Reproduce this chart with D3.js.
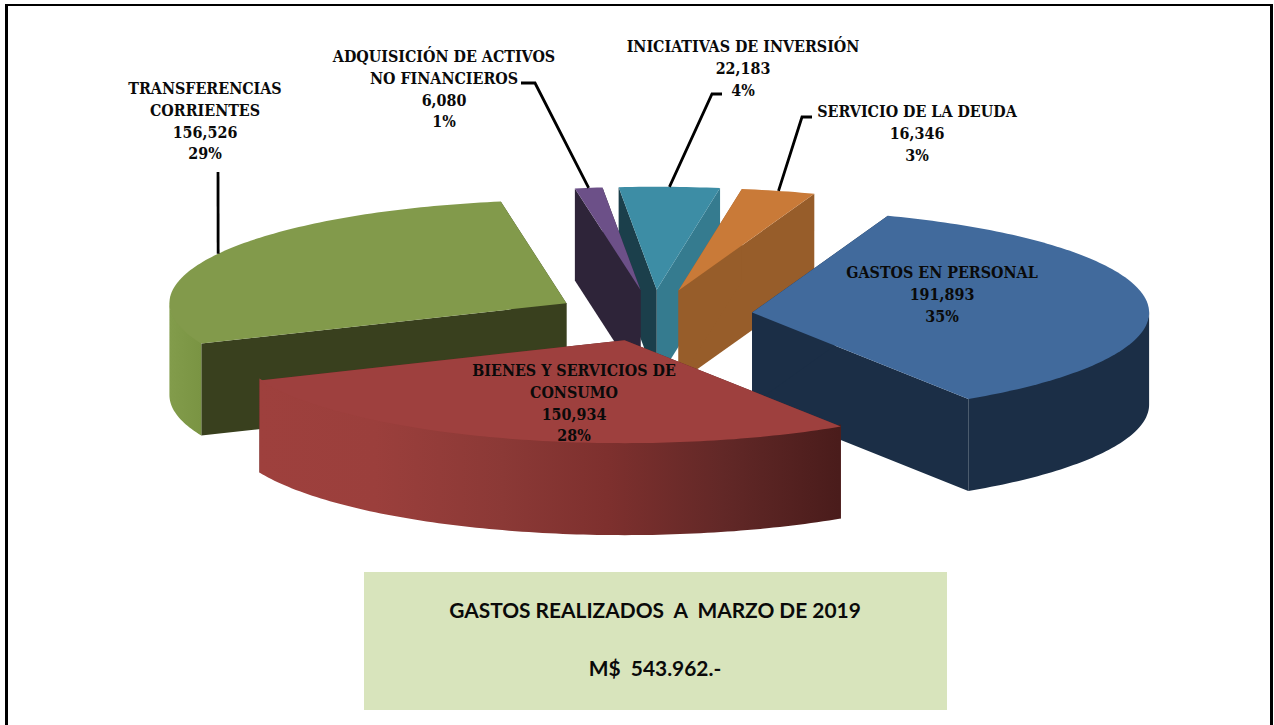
<!DOCTYPE html>
<html>
<head>
<meta charset="utf-8">
<script src="https://cdn.jsdelivr.net/npm/d3@7"></script>
<style>
  html, body { margin: 0; background: #fff; overflow: hidden; }
  .label { font: bold 15.9px "DejaVu Serif Condensed", "DejaVu Serif", serif; font-stretch: condensed; fill: #0a0a0a; text-anchor: middle; }
  .note { font: bold 20.9px Lato, sans-serif; fill: #0a0a0a; text-anchor: middle; white-space: pre; }
</style>
</head>
<body>
<svg id="chart" width="1274" height="725"></svg>
<script>
// chart values
const categories = ['GASTOS EN PERSONAL', 'BIENES Y SERVICIOS DE CONSUMO', 'TRANSFERENCIAS CORRIENTES',
  'ADQUISICIÓN DE ACTIVOS NO FINANCIEROS', 'INICIATIVAS DE INVERSIÓN', 'SERVICIO DE LA DEUDA'];
const values = [191893, 150934, 156526, 6080, 22183, 16346];
const percents = ['35%', '28%', '29%', '1%', '4%', '3%'];
const noteLines = ['GASTOS REALIZADOS  A  MARZO DE 2019', 'M$  543.962.-'];

// label wrapping, same order as categories
const labelLines = [
  ['GASTOS EN PERSONAL'],
  ['BIENES Y SERVICIOS DE', 'CONSUMO'],
  ['TRANSFERENCIAS', 'CORRIENTES'],
  ['ADQUISICIÓN DE ACTIVOS', 'NO FINANCIEROS'],
  ['INICIATIVAS DE INVERSIÓN'],
  ['SERVICIO DE LA DEUDA'],
];

// styling and layout
const topColors = ['#416a9c', '#9e403e', '#829a4b', '#6c5088', '#3d8da5', '#c97a38'];
const startWallColors = ['#1b2e46', '#5c2625', '#39401e', '#2e2439', '#1b3f4b', '#975d2a'];
const endWallColors = ['#1b2e46', '#5c2625', '#39401e', '#2e2439', '#357b8f', '#975d2a'];
const labelPos = [[942, 278], [574, 376], [205, 94], [444, 62], [743, 52], [917, 117]];
const leaderElbow = [null, null, [[218, 172]], [[521, 83], [535, 83]], [[722, 94], [712, 94]], [[812, 117], [802, 117]]];
const drawOrder = [4, 3, 5, 2, 0, 1];

const cx = 653.5, cy = 315.5, rx = 397, ry = 103, depth = 92, explode = 0.25;
const deg = Math.PI / 180;

const svg = d3.select('#chart');

// frame, open at the bottom like the cropped original
svg.append('path')
  .attr('d', 'M6.5,725V5M1271.5,725V5')
  .attr('fill', 'none')
  .attr('stroke', '#000')
  .attr('stroke-width', 3);
svg.append('path')
  .attr('d', 'M5,5H1273')
  .attr('fill', 'none')
  .attr('stroke', '#000')
  .attr('stroke-width', 2);

const defs = svg.append('defs');

const redGrad = defs.append('linearGradient')
  .attr('id', 'redWall')
  .attr('gradientUnits', 'userSpaceOnUse')
  .attr('x1', 259).attr('x2', 839).attr('y1', 0).attr('y2', 0);
[[0, '#9e403d'], [0.2, '#9b3f3c'], [0.42, '#8b3936'], [0.6, '#7e302e'], [0.8, '#622827'], [1, '#4a1c1b']].forEach(function(s) {
  redGrad.append('stop').attr('offset', s[0]).attr('stop-color', s[1]);
});

const greenGrad = defs.append('linearGradient')
  .attr('id', 'greenWall')
  .attr('gradientUnits', 'userSpaceOnUse')
  .attr('x1', 170).attr('x2', 201).attr('y1', 0).attr('y2', 0);
[[0, '#829c4b'], [1, '#7a9443']].forEach(function(s) {
  greenGrad.append('stop').attr('offset', s[0]).attr('stop-color', s[1]);
});

const outerFill = ['#1b2e46', 'url(#redWall)', 'url(#greenWall)', '#2e2439', '#357b8f', '#975d2a'];

const pie = d3.pie()
  .sort(null)
  .startAngle(20 * deg)
  .endAngle(380 * deg);

const slices = pie(values);

const x = d3.scaleLinear().domain([-1, 1]).range([cx - rx, cx + rx]);
const y = d3.scaleLinear().domain([-1, 1]).range([cy - ry, cy + ry]);

// flat pie point -> screen, angle clockwise from north, r in pie radii
function project(d, angle, r, drop) {
  const mid = (d.startAngle + d.endAngle) / 2;
  const u = explode * Math.sin(mid) + r * Math.sin(angle);
  const v = -explode * Math.cos(mid) - r * Math.cos(angle);
  return [x(u), y(v) + (drop || 0)];
}

const line = d3.line();

function arcPoints(d, a0, a1, drop) {
  const n = Math.max(2, Math.ceil((a1 - a0) / deg));
  return d3.range(n + 1).map(function(i) {
    return project(d, a0 + (a1 - a0) * i / n, 1, drop);
  });
}

function topPath(d) {
  return line([project(d, d.startAngle, 0)].concat(arcPoints(d, d.startAngle, d.endAngle))) + 'Z';
}

function radialWall(d, angle) {
  return line([
    project(d, angle, 0),
    project(d, angle, 1),
    project(d, angle, 1, depth),
    project(d, angle, 0, depth),
  ]) + 'Z';
}

// the rim only shows between 90 and 270 degrees, the front half.
// its upper edge starts 2px high so the top face hides the seam
function rimPath(d) {
  const spans = [[90, 270], [450, 630]];
  let out = '';
  spans.forEach(function(s) {
    const a0 = Math.max(d.startAngle, s[0] * deg);
    const a1 = Math.min(d.endAngle, s[1] * deg);
    if (a1 <= a0) return;
    out += line(arcPoints(d, a0, a1, -2).concat(arcPoints(d, a0, a1, depth).reverse())) + 'Z';
  });
  return out;
}

const groups = svg.selectAll('.slice')
  .data(drawOrder)
  .enter().append('g')
  .attr('class', 'slice');

groups.append('path')
  .attr('d', function(i) { return radialWall(slices[i], slices[i].endAngle); })
  .attr('fill', function(i) { return endWallColors[i]; });

groups.append('path')
  .attr('d', function(i) { return radialWall(slices[i], slices[i].startAngle); })
  .attr('fill', function(i) { return startWallColors[i]; });

groups.append('path')
  .attr('d', function(i) { return rimPath(slices[i]); })
  .attr('fill', function(i) { return outerFill[i]; });

groups.append('path')
  .attr('d', function(i) { return topPath(slices[i]); })
  .attr('fill', function(i) { return topColors[i]; });

// leader lines end on the middle of each slice's rim
svg.selectAll('.leader')
  .data(d3.range(values.length).filter(function(i) { return leaderElbow[i]; }))
  .enter().append('path')
  .attr('class', 'leader')
  .attr('d', function(i) {
    const mid = (slices[i].startAngle + slices[i].endAngle) / 2;
    return line(leaderElbow[i].concat([project(slices[i], mid, 1)]));
  })
  .attr('fill', 'none')
  .attr('stroke', '#000')
  .attr('stroke-width', 2.8);

const fmt = d3.format(',d');

const labels = svg.selectAll('.label')
  .data(d3.range(values.length))
  .enter().append('text')
  .attr('class', 'label')
  .attr('transform', function(i) { return 'translate(' + labelPos[i] + ')'; });

labels.selectAll('tspan')
  .data(function(i) { return labelLines[i].concat([fmt(values[i]), percents[i]]); })
  .enter().append('tspan')
  .attr('x', 0)
  .attr('y', function(d, j) { return j * 21.8; })
  .text(function(d) { return d; });

// summary box
svg.append('rect')
  .attr('x', 364).attr('y', 572)
  .attr('width', 583).attr('height', 138)
  .attr('fill', '#d8e4bc');

svg.selectAll('.note')
  .data(noteLines)
  .enter().append('text')
  .attr('class', 'note')
  .attr('x', 655)
  .attr('y', function(d, i) { return 618 + i * 58; })
  .text(function(d) { return d; });
</script>
</body>
</html>
